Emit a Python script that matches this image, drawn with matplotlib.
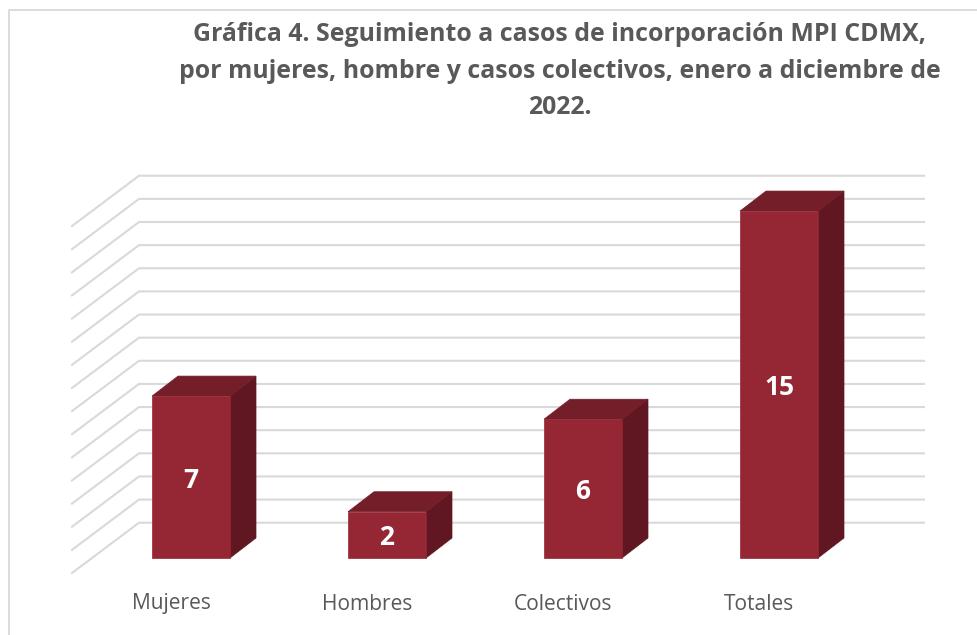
import matplotlib
matplotlib.use('Agg')
import matplotlib.pyplot as plt
from matplotlib.patches import Polygon, Rectangle

categorias = ['Mujeres', 'Hombres', 'Colectivos', 'Totales']
valores = [7, 2, 6, 15]
niveles = list(range(0, 16))
titulo = ('Gráfica 4. Seguimiento a casos de incorporación MPI CDMX,\n'
          'por mujeres, hombre y casos colectivos, enero a diciembre de\n'
          '2022.')

plt.rcParams['font.family'] = ['Open Sans', 'DejaVu Sans']

W, H = 978, 635
# pixeles por unidad en cada eje
PX = 196.0
PY = 23.13
X0 = 191.0
Y0 = 558.0

fig = plt.figure(figsize=(W / 100, H / 100), dpi=100, facecolor='white')
ax = fig.add_axes([0, 0, 1, 1])
ax.set_xlim(-X0 / PX, (W - X0) / PX)
ax.set_ylim((Y0 - H) / PY, Y0 / PY)
ax.axis('off')

# marco del grafico
marco_x = [(9 - X0) / PX, (9 - X0) / PX, (W - X0) / PX]
marco_y = [(Y0 - H) / PY, (Y0 - 9.5) / PY, (Y0 - 9.5) / PY]
ax.plot(marco_x, marco_y, color='#d9d9d9', lw=1.3, zorder=1)

# rejilla: pared del fondo y piso
x_izq = (72 - X0) / PX
x_fondo = (139 - X0) / PX
x_der = (924 - X0) / PX
base_frente = -15 / PY
base_fondo = 35.3 / PY
for n in niveles:
    ax.plot([x_izq, x_fondo, x_der],
            [n + base_frente, n + base_fondo, n + base_fondo],
            color='#d9d9d9', lw=1.5, zorder=2, solid_joinstyle='miter')

# barras 3D
ancho = 78 / PX
prof_x = 26 / PX
prof_y = 20 / PY
for i, v in enumerate(valores):
    izq = i - ancho / 2
    der = i + ancho / 2
    ax.add_patch(Polygon([(der, 0), (der + prof_x, prof_y), (der + prof_x, v + prof_y), (der, v)],
                         closed=True, fc='#611722', ec='#611722', lw=0.5, zorder=3))
    ax.add_patch(Polygon([(izq, v), (izq + prof_x, v + prof_y), (der + prof_x, v + prof_y), (der, v)],
                         closed=True, fc='#741e29', ec='#741e29', lw=0.5, zorder=3))
    ax.add_patch(Rectangle((izq, 0), ancho, v, fc='#952735', ec='#952735', lw=0.5, zorder=4))
    ax.text(i, v / 2 - 3 / PY, str(v), color='white', fontsize=19, fontweight='bold',
            ha='center', va='center', zorder=5)
    ax.text(i - 20 / PX, -46 / PY, categorias[i], color='#595959', fontsize=15.1,
            ha='center', va='center', zorder=5)

ax.text((560 - X0) / PX, (Y0 - 71) / PY, titulo, color='#595959', fontsize=17.9,
        fontweight='bold', ha='center', va='center', linespacing=1.6, zorder=5)

fig.savefig('out.png', dpi=100)
